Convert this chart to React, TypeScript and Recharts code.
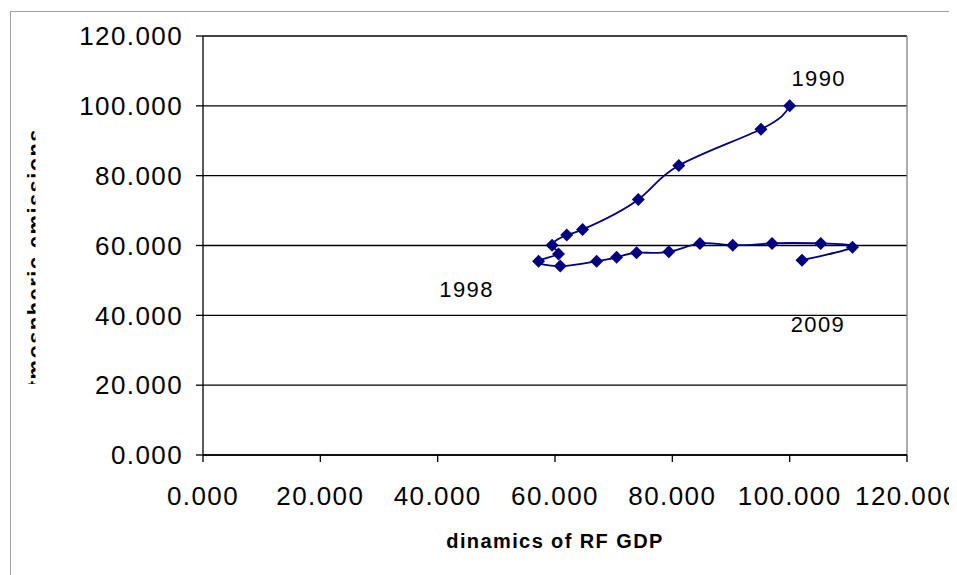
import { LineChart, Line, XAxis, YAxis, CartesianGrid, ReferenceLine, LabelList } from 'recharts'

// Russia 1990-2009, both series indexed to 1990 = 100
const years = [
  1990, 1991, 1992, 1993, 1994, 1995, 1996, 1997, 1998, 1999,
  2000, 2001, 2002, 2003, 2004, 2005, 2006, 2007, 2008, 2009,
]
const gdpIndex = [
  100.0, 95.1, 81.1, 74.2, 64.7, 62.0, 59.5, 60.6, 57.2, 60.9,
  67.1, 70.5, 73.9, 79.4, 84.7, 90.3, 97.0, 105.3, 110.7, 102.1,
]
const emissionIndex = [
  100.0, 93.3, 82.9, 73.2, 64.6, 63.0, 60.1, 57.6, 55.5, 54.1,
  55.5, 56.6, 57.9, 58.2, 60.6, 60.1, 60.6, 60.6, 59.5, 55.8,
]
const axisTicks = [0, 20, 40, 60, 80, 100, 120]
const labelledYears = [1990, 1998, 2009]

const data = years.map((year, i) => ({ year, gdp: gdpIndex[i], emissions: emissionIndex[i] }))

const NAVY = '#000080'
const FONT = '"Liberation Sans", Arial, sans-serif'
const tickStyle = { fontSize: 26, fill: '#000', fontFamily: FONT, letterSpacing: 1.4 }

// where each year caption sits relative to its point
const captionOffset: Record<number, [number, number]> = {
  1990: [29, -20],
  1998: [-72, 36],
  2009: [16, 72],
}

const Diamond = (props: any) => {
  const { cx, cy } = props
  if (cx == null || cy == null) return null
  const r = 6.5
  return <path d={`M${cx},${cy - r}L${cx + r},${cy}L${cx},${cy + r}L${cx - r},${cy}Z`} fill={NAVY} />
}

const YearCaption = (props: any) => {
  const { x, y, value } = props
  if (!labelledYears.includes(value)) return null
  const [dx, dy] = captionOffset[value]
  return (
    <text x={x + dx} y={y + dy} textAnchor="middle" fontSize={22} fontFamily={FONT} letterSpacing={1.4} fill="#000">
      {value}
    </text>
  )
}

const fmt = (v: number) => v.toFixed(3)

export default function App() {
  return (
    <div style={{ position: 'relative', width: 949, height: 567, background: '#fff' }}>
      <LineChart
        width={949}
        height={567}
        data={data}
        margin={{ top: 28, right: 50, left: 0, bottom: 20 }}
      >
        <CartesianGrid vertical={false} stroke="#000" strokeWidth={1.3} />
        <XAxis
          type="number"
          dataKey="gdp"
          domain={[0, 120]}
          ticks={axisTicks}
          tickFormatter={fmt}
          interval={0}
          height={100}
          tickSize={7}
          tickMargin={25}
          stroke="#000"
          strokeWidth={1.3}
          tick={tickStyle}
          label={{
            value: 'dinamics of RF GDP',
            position: 'insideBottom',
            offset: 7,
            style: { fontSize: 20, fontWeight: 700, fontFamily: FONT, fill: '#000', letterSpacing: 1.4 },
          }}
        />
        <YAxis
          type="number"
          domain={[0, 120]}
          ticks={axisTicks}
          tickFormatter={fmt}
          interval={0}
          width={195}
          tickSize={7}
          tickMargin={13}
          stroke="#000"
          strokeWidth={1.3}
          tick={tickStyle}
        />
        <ReferenceLine x={120} stroke="#808080" strokeWidth={1.3} />
        <Line
          type="natural"
          dataKey="emissions"
          stroke={NAVY}
          strokeWidth={1.8}
          dot={<Diamond />}
          activeDot={false}
          isAnimationActive={false}
        >
          <LabelList dataKey="year" content={<YearCaption />} />
        </Line>
      </LineChart>

      {/* outer frame and the clipped y-axis title */}
      <svg
        width={949}
        height={567}
        style={{ position: 'absolute', left: 0, top: 0, pointerEvents: 'none' }}
      >
        <defs>
          <clipPath id="ytitle-clip">
            <rect x={0} y={0} width={27.5} height={376} />
          </clipPath>
        </defs>
        <line x1={2} y1={3.5} x2={949} y2={3.5} stroke="#a0a0a0" strokeWidth={1} />
        <line x1={2.5} y1={3} x2={2.5} y2={567} stroke="#a0a0a0" strokeWidth={1} />
        <g clipPath="url(#ytitle-clip)">
          <text
            x={35}
            y={120}
            transform="rotate(-90, 35, 120)"
            textAnchor="end"
            fontSize={22}
            fontWeight={700}
            fontFamily={FONT}
            letterSpacing={1.4}
            fill="#000"
          >
            Atmospheric emissions
          </text>
        </g>
      </svg>
    </div>
  )
}
